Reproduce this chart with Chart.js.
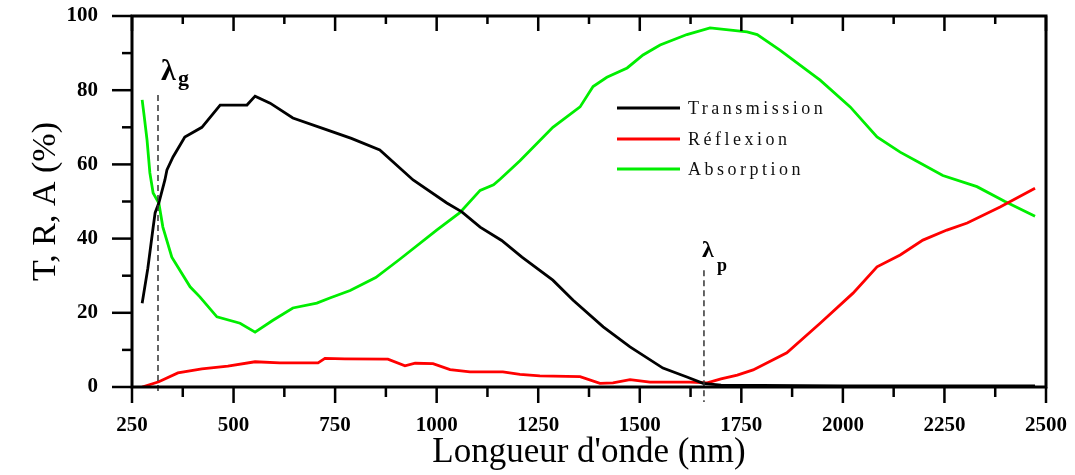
<!DOCTYPE html>
<html>
<head>
<meta charset="utf-8">
<script src="https://cdn.jsdelivr.net/npm/chart.js@4.4.0/dist/chart.umd.min.js"></script>
<style>
  html, body { margin: 0; padding: 0; background: #fff; }
  #wrap { width: 1075px; height: 475px; position: relative; }
</style>
</head>
<body>
<div id="wrap"><canvas id="spectre"></canvas></div>
<script>
// Données : longueur d'onde (nm) et valeurs (%)
const transWl = [275, 289, 302, 307, 316, 331, 336, 351, 380, 422, 467, 533, 553, 590, 646, 730, 790, 860, 942, 1025, 1062, 1107, 1160, 1210, 1286, 1336, 1410, 1476, 1557, 1616, 1656, 1700, 1800, 2000, 2200, 2473];
const transVal = [22.6, 32, 43, 47, 49.6, 55.8, 58.5, 62, 67.4, 70, 76, 76, 78.4, 76.5, 72.5, 69.3, 67, 63.9, 55.8, 49.6, 47.2, 43.1, 39.5, 35, 28.8, 23.4, 16.2, 10.8, 5.1, 2.7, 1, 0.5, 0.4, 0.3, 0.3, 0.3];

const refWl = [275, 316, 363, 422, 486, 553, 614, 708, 725, 774, 880, 922, 947, 991, 1033, 1082, 1163, 1205, 1254, 1353, 1402, 1434, 1476, 1525, 1624, 1666, 1700, 1740, 1779, 1862, 1944, 2025, 2084, 2141, 2197, 2256, 2306, 2387, 2473];
const refVal = [0, 1.4, 3.8, 4.9, 5.6, 6.8, 6.5, 6.5, 7.7, 7.6, 7.5, 5.7, 6.4, 6.3, 4.7, 4.1, 4.1, 3.4, 3.0, 2.8, 1.0, 1.1, 2.0, 1.3, 1.3, 1.1, 2.2, 3.2, 4.6, 9.2, 17.2, 25.3, 32.4, 35.6, 39.6, 42.3, 44.2, 48.5, 53.6];

const absWl = [275, 280, 287, 294, 302, 316, 326, 348, 393, 417, 459, 516, 553, 597, 646, 705, 737, 787, 850, 910, 1000, 1057, 1107, 1140, 1156, 1205, 1286, 1353, 1385, 1419, 1469, 1508, 1550, 1616, 1673, 1764, 1789, 1845, 1944, 2018, 2084, 2141, 2190, 2246, 2330, 2399, 2473];
const absVal = [77.4, 73, 66.6, 57.7, 52.3, 49.6, 43.1, 35, 27, 24.3, 18.9, 17.2, 14.8, 18, 21.3, 22.6, 24, 26, 29.5, 34.5, 42.3, 47, 53, 54.5, 56, 61, 70, 75.5, 81, 83.5, 86, 89.5, 92.2, 95, 96.8, 95.7, 95, 90.8, 82.7, 75.5, 67.4, 63.3, 60.4, 57, 54, 50, 46];

// Longueurs d'onde marquées par les traits pointillés
const lambdaG = 314;
const lambdaP = 1658;

const serif = '"Liberation Serif", "DejaVu Serif", serif';

function toPoints(xs, ys) {
    return xs.map((x, i) => ({ x: x, y: ys[i] }));
}

// pas de marge automatique autour des axes : la zone de tracé est fixée par layout.padding
function noPadding(scale) {
    scale.paddingLeft = 0;
    scale.paddingRight = 0;
    scale.paddingTop = 0;
    scale.paddingBottom = 0;
}

// Cadre, graduations, lambdas et légende
const decorPlugin = {
    id: 'decor',
    afterDatasetsDraw(chart) {
        const ctx = chart.ctx;
        const area = chart.chartArea;
        const xs = chart.scales.x;
        const ys = chart.scales.y;
        ctx.save();

        // pointillés lambda
        ctx.strokeStyle = '#333';
        ctx.lineWidth = 1.5;
        ctx.setLineDash([6, 4]);
        let xg = xs.getPixelForValue(lambdaG);
        ctx.beginPath();
        ctx.moveTo(xg, ys.getPixelForValue(78.7));
        ctx.lineTo(xg, area.bottom + 5);
        ctx.stroke();
        let xp = xs.getPixelForValue(lambdaP);
        ctx.beginPath();
        ctx.moveTo(xp, ys.getPixelForValue(31.5));
        ctx.lineTo(xp, area.bottom + 15);
        ctx.stroke();
        ctx.setLineDash([]);

        // cadre
        ctx.strokeStyle = '#000';
        ctx.lineWidth = 3;
        ctx.strokeRect(area.left, area.top, area.right - area.left, area.bottom - area.top);

        // graduations x
        ctx.lineWidth = 2.5;
        for (let v = 250; v <= 2500; v += 125) {
            const major = (v - 250) % 250 === 0;
            const px = xs.getPixelForValue(v);
            ctx.beginPath();
            ctx.moveTo(px, area.bottom);
            ctx.lineTo(px, area.bottom + (major ? 16 : 10));
            ctx.moveTo(px, area.top);
            ctx.lineTo(px, area.top + (major ? 15 : 8));
            ctx.stroke();
        }
        // graduations y
        for (let v = 0; v <= 100; v += 10) {
            const major = v % 20 === 0;
            const py = ys.getPixelForValue(v);
            ctx.beginPath();
            ctx.moveTo(area.left, py);
            ctx.lineTo(area.left - (major ? 20 : 10), py);
            ctx.stroke();
        }

        // étiquettes lambda
        ctx.fillStyle = '#000';
        ctx.textBaseline = 'alphabetic';
        ctx.textAlign = 'left';
        ctx.font = 'bold 30px ' + serif;
        ctx.fillText('λ', xg + 3, 80);
        ctx.font = 'bold 22px ' + serif;
        ctx.fillText('g', xg + 20, 85);
        ctx.font = 'bold 24px ' + serif;
        ctx.fillText('λ', xp - 2, 257);
        ctx.font = 'bold 18px ' + serif;
        ctx.fillText('p', xp + 13, 271);

        // légende
        const rows = [108, 139, 169];
        ctx.font = '18px ' + serif;
        ctx.textBaseline = 'middle';
        if ('letterSpacing' in ctx) ctx.letterSpacing = '3.5px';
        chart.data.datasets.forEach((ds, i) => {
            ctx.strokeStyle = ds.borderColor;
            ctx.lineWidth = 3;
            ctx.beginPath();
            ctx.moveTo(617, rows[i]);
            ctx.lineTo(680, rows[i]);
            ctx.stroke();
            ctx.fillStyle = '#111';
            ctx.fillText(ds.label, 688, rows[i] + 1);
        });
        ctx.restore();
    }
};

new Chart(document.getElementById('spectre'), {
    type: 'line',
    data: {
        datasets: [
            {
                label: 'Transmission',
                data: toPoints(transWl, transVal),
                borderColor: '#000000',
                borderWidth: 2.8
            },
            {
                label: 'Réflexion',
                data: toPoints(refWl, refVal),
                borderColor: '#ff0000',
                borderWidth: 2.8
            },
            {
                label: 'Absorption',
                data: toPoints(absWl, absVal),
                borderColor: '#00ee00',
                borderWidth: 2.8
            }
        ]
    },
    options: {
        responsive: true,
        maintainAspectRatio: false,
        animation: false,
        layout: { padding: { top: 16, right: 29, left: 0, bottom: 0 } },
        elements: { point: { radius: 0 }, line: { tension: 0 } },
        plugins: {
            legend: { display: false },
            tooltip: { enabled: false }
        },
        scales: {
            x: {
                type: 'linear',
                min: 250,
                max: 2500,
                grid: { display: false, drawTicks: false },
                border: { display: false },
                ticks: {
                    stepSize: 250,
                    padding: 26,
                    color: '#000',
                    font: { family: serif, size: 21, weight: 'bold' },
                    callback: (value) => String(value)
                },
                title: {
                    display: true,
                    text: "Longueur d'onde (nm)",
                    color: '#000',
                    padding: { top: 0, bottom: 1 },
                    font: { family: serif, size: 35 }
                },
                afterFit(scale) {
                    scale.height = 88;
                    noPadding(scale);
                }
            },
            y: {
                min: 0,
                max: 100,
                grid: { display: false, drawTicks: false },
                border: { display: false },
                ticks: {
                    stepSize: 20,
                    padding: 34,
                    color: '#000',
                    font: { family: serif, size: 21, weight: 'bold' }
                },
                title: {
                    display: true,
                    text: 'T, R, A (%)',
                    color: '#000',
                    padding: { top: 26, bottom: 0 },
                    font: { family: serif, size: 34 }
                },
                afterFit(scale) {
                    scale.width = 132;
                    noPadding(scale);
                }
            }
        }
    },
    plugins: [decorPlugin]
});
</script>
</body>
</html>
